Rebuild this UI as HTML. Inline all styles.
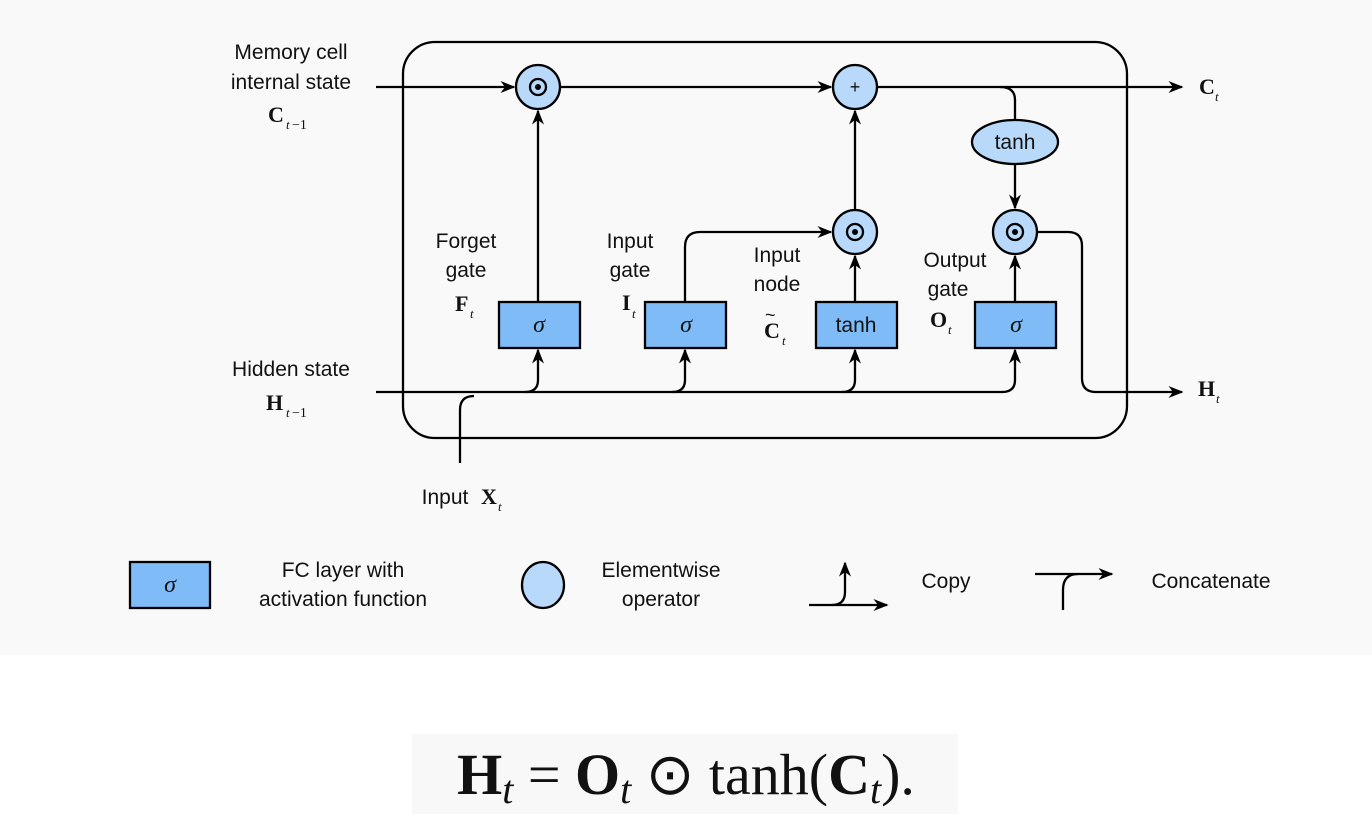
<!DOCTYPE html>
<html><head><meta charset="utf-8"><style>
html,body{margin:0;padding:0;background:#fff;width:1372px;height:816px;overflow:hidden}
svg{display:block}
text{font-family:"Liberation Sans",sans-serif;fill:#111}
.m{font-family:"Liberation Serif",serif;font-weight:bold}
.s{font-family:"Liberation Serif",serif;font-style:italic;font-size:13px}
.g{font-family:"Liberation Serif",serif;font-style:italic}
.eq{font-family:"Liberation Serif",serif;font-size:58px}
</style></head><body>
<svg width="1372" height="816" viewBox="0 0 1372 816">
<defs>
<marker id="b" viewBox="0 0 10 10" refX="9" refY="5" markerWidth="15" markerHeight="15" orient="auto" markerUnits="userSpaceOnUse"><path d="M0,1 L10,5 L0,9 L3,5z" fill="#000"/></marker></defs>
<rect x="0" y="0" width="1372" height="655" fill="#f9f9f9"/>
<rect x="412" y="734" width="546" height="80" fill="#f8f8f8"/>
<g fill="none" stroke="#000" stroke-width="2.3">
<rect x="403" y="42" width="724" height="396" rx="32"/>
<path d="M376,87 H514" marker-end="url(#b)"/>
<path d="M560,87 H831" marker-end="url(#b)"/>
<path d="M877,87 H1182" marker-end="url(#b)"/>
<path d="M1000,87 Q1015,87 1015,100 V120"/>
<path d="M1015,164 V208" marker-end="url(#b)"/>
<path d="M538,302 V111" marker-end="url(#b)"/>
<path d="M855,210 V111" marker-end="url(#b)"/>
<path d="M855,302 V256" marker-end="url(#b)"/>
<path d="M1015,302 V256" marker-end="url(#b)"/>
<path d="M685,302 V247 Q685,232 700,232 H831" marker-end="url(#b)"/>
<path d="M1037,232 H1068 Q1082,232 1082,246 V378 Q1082,392 1096,392 H1182" marker-end="url(#b)"/>
<path d="M376,392 H1002"/>
<path d="M460,463 V410 Q460,396 474,396"/>
<path d="M525,392 Q538,392 538,380 V350" marker-end="url(#b)"/>
<path d="M672,392 Q685,392 685,380 V350" marker-end="url(#b)"/>
<path d="M842,392 Q855,392 855,380 V350" marker-end="url(#b)"/>
<path d="M1002,392 Q1015,392 1015,380 V350" marker-end="url(#b)"/>
<path d="M809,605 H887" marker-end="url(#b)"/>
<path d="M832,605 Q845,605 845,592 V563" marker-end="url(#b)"/>
<path d="M1035,574 H1112" marker-end="url(#b)"/>
<path d="M1063,610 V590 Q1063,574 1078,574"/>
</g>
<g stroke="#000" stroke-width="2.3" fill="#b9d9fb">
<circle cx="538" cy="87" r="22"/><circle cx="855" cy="87" r="22"/>
<circle cx="855" cy="232" r="22"/><circle cx="1015" cy="232" r="22"/>
<ellipse cx="1015" cy="142" rx="43" ry="22"/>
<ellipse cx="543" cy="585" rx="21" ry="23"/>
</g>
<g stroke="#000" stroke-width="2.3" fill="#7fbcf7">
<rect x="499" y="302" width="81" height="46"/><rect x="645" y="302" width="81" height="46"/>
<rect x="816" y="302" width="81" height="46"/><rect x="975" y="302" width="81" height="46"/>
<rect x="130" y="562" width="80" height="46"/>
</g>
<g fill="none" stroke="#000" stroke-width="2.3">
<circle cx="538" cy="87" r="8"/><circle cx="855" cy="232" r="8"/><circle cx="1015" cy="232" r="8"/>
</g>
<g fill="#000"><circle cx="538" cy="87" r="3"/><circle cx="855" cy="232" r="3"/><circle cx="1015" cy="232" r="3"/></g>
<text x="855" y="93" font-size="18" text-anchor="middle">+</text>
<g font-size="21" text-anchor="middle">
<text x="1015" y="149">tanh</text><text x="856" y="332">tanh</text>
<text x="539" y="332" class="g" font-size="24">σ</text>
<text x="686" y="332" class="g" font-size="24">σ</text>
<text x="1016" y="332" class="g" font-size="24">σ</text>
<text x="170" y="592" class="g" font-size="24">σ</text>
<text x="291" y="59">Memory cell</text><text x="291" y="89">internal state</text>
<text x="291" y="376">Hidden state</text>
<text x="466" y="248">Forget</text><text x="466" y="277">gate</text>
<text x="630" y="248">Input</text><text x="630" y="277">gate</text>
<text x="777" y="262">Input</text><text x="777" y="291">node</text>
<text x="955" y="267">Output</text><text x="948" y="296">gate</text>
<text x="445" y="504">Input</text>
<text x="343" y="577">FC layer with</text><text x="343" y="606">activation function</text>
<text x="661" y="577">Elementwise</text><text x="661" y="606">operator</text>
<text x="946" y="588">Copy</text><text x="1211" y="588">Concatenate</text>
</g>
<g font-size="22">
<text class="m" x="268" y="122">C</text><text class="s" x="286" y="129">t</text><text x="292" y="129" font-size="14" style="font-family:'Liberation Serif',serif">−1</text>
<text class="m" x="266" y="410">H</text><text class="s" x="286" y="417">t</text><text x="292" y="417" font-size="14" style="font-family:'Liberation Serif',serif">−1</text>
<text class="m" x="455" y="311">F</text><text class="s" x="470" y="318">t</text>
<text class="m" x="622" y="310">I</text><text class="s" x="632" y="318">t</text>
<text class="m" x="764" y="338">C</text><text x="765" y="321" font-size="18">~</text><text class="s" x="782" y="345">t</text>
<text class="m" x="930" y="327">O</text><text class="s" x="948" y="334">t</text>
<text class="m" x="1199" y="94">C</text><text class="s" x="1215" y="101">t</text>
<text class="m" x="1198" y="396">H</text><text class="s" x="1216" y="403">t</text>
<text class="m" x="481" y="504">X</text><text class="s" x="498" y="511">t</text>
</g>
<text x="686" y="794" class="eq" text-anchor="middle"><tspan font-weight="bold">H</tspan><tspan font-style="italic" font-size="40" dy="9">t</tspan><tspan dy="-9"> = </tspan><tspan font-weight="bold">O</tspan><tspan font-style="italic" font-size="40" dy="9">t</tspan><tspan dy="-9"> ⊙ tanh(</tspan><tspan font-weight="bold">C</tspan><tspan font-style="italic" font-size="40" dy="9">t</tspan><tspan dy="-9">).</tspan></text>
</svg>
</body></html>
